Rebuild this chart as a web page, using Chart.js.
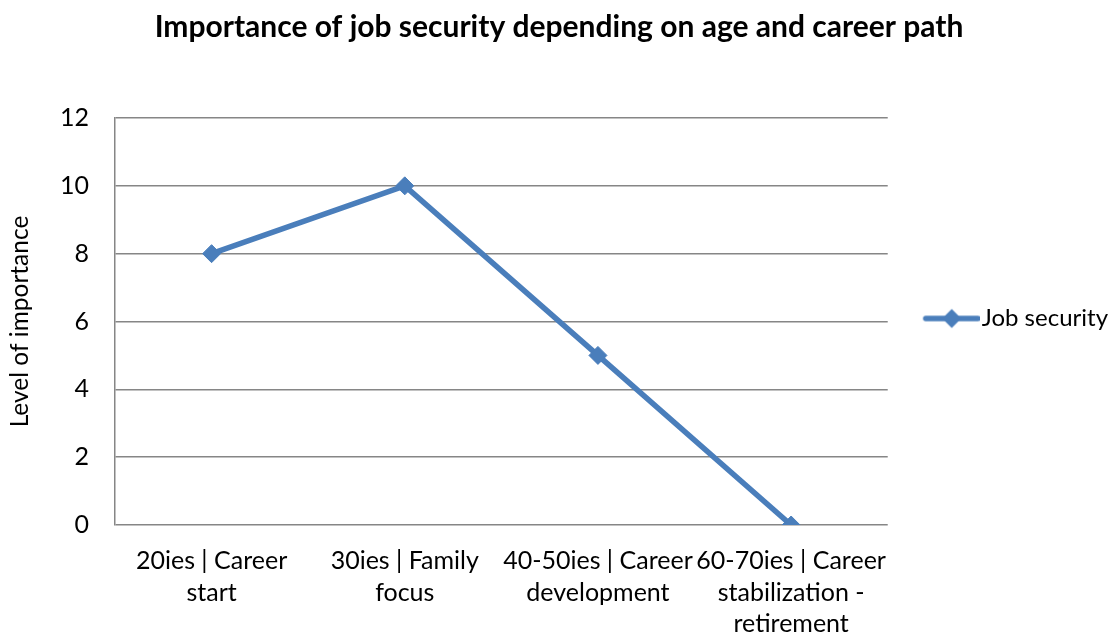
<!DOCTYPE html>
<html>
<head>
<meta charset="utf-8">
<script src="https://cdn.jsdelivr.net/npm/chart.js@4.4.1/dist/chart.umd.min.js"></script>
<style>
  html, body { margin: 0; padding: 0; background: #ffffff; }
  #wrap { width: 1118px; height: 637px; position: relative; }
</style>
</head>
<body>
<div id="wrap"><canvas id="chart" width="1118" height="637"></canvas></div>
<script>
// Life stages (each entry is split into its wrapped label lines)
const stages = [
  ['20ies | Career', 'start'],
  ['30ies | Family', 'focus'],
  ['40-50ies | Career', 'development'],
  ['60-70ies | Career', 'stabilization -', 'retirement']
];
// Importance of job security at each stage
const jobSecurity = [8, 10, 5, 0];
const seriesName = 'Job security';
const chartTitle = 'Importance of job security depending on age and career path';
const yTitle = 'Level of importance';
const yMin = 0, yMax = 12, yStep = 2;

const FONT = "Lato, Carlito, Calibri, 'Open Sans', sans-serif";
const BLUE = '#4A7EBB';
const GRID = '#868686';

// Legend swatch: a short line with a diamond in the middle,
// drawn in the right part of a wider transparent canvas
function legendSwatch() {
  const c = document.createElement('canvas');
  c.width = 92; c.height = 24;
  const g = c.getContext('2d');
  const x0 = 38, x1 = 90, cx = (x0 + x1) / 2, cy = 12;
  g.strokeStyle = BLUE;
  g.lineWidth = 5.5;
  g.lineCap = 'round';
  g.beginPath(); g.moveTo(x0, cy); g.lineTo(x1, cy); g.stroke();
  g.fillStyle = BLUE;
  g.beginPath();
  g.moveTo(cx - 9.5, cy); g.lineTo(cx, cy - 9.5); g.lineTo(cx + 9.5, cy); g.lineTo(cx, cy + 9.5);
  g.closePath(); g.fill();
  return c;
}
const swatch = legendSwatch();

new Chart(document.getElementById('chart'), {
  type: 'line',
  data: {
    labels: stages,
    datasets: [{
      label: seriesName,
      data: jobSecurity,
      borderColor: BLUE,
      backgroundColor: BLUE,
      borderWidth: 5.5,
      pointStyle: 'rectRot',
      pointRadius: 9,
      pointBorderWidth: 1,
      pointHoverRadius: 9,
      tension: 0
    }]
  },
  options: {
    responsive: false,
    animation: false,
    events: [],
    layout: { padding: { left: 0, right: 0, top: 0, bottom: 0 } },
    plugins: {
      title: {
        display: true,
        text: chartTitle,
        color: '#000',
        font: { family: FONT, size: 30, weight: 'bold', lineHeight: 1.2 },
        padding: { top: 9, bottom: 73 }
      },
      legend: {
        position: 'right',
        labels: {
          color: '#000',
          font: { family: FONT, size: 24 },
          usePointStyle: true,
          pointStyleWidth: 72,
          padding: 10,
          generateLabels: (chart) => chart.data.datasets.map((ds, i) => ({
            text: ds.label,
            pointStyle: swatch,
            fillStyle: ds.borderColor,
            strokeStyle: ds.borderColor,
            lineWidth: 0,
            datasetIndex: i
          }))
        }
      },
      tooltip: { enabled: false }
    },
    scales: {
      x: {
        offset: true,
        grid: { display: false, drawTicks: false },
        border: { display: false },
        ticks: {
          color: '#000',
          font: { family: FONT, size: 25, lineHeight: 1.27 },
          padding: 20,
          maxRotation: 0,
          autoSkip: false
        },
        afterFit: (s) => { s.height = 112; }
      },
      y: {
        min: yMin,
        max: yMax,
        ticks: {
          stepSize: yStep,
          color: '#000',
          font: { family: FONT, size: 25 },
          padding: 26
        },
        grid: { color: GRID, lineWidth: 1.5, drawTicks: false },
        border: { display: true, color: GRID, width: 1.5 },
        title: {
          display: true,
          text: yTitle,
          color: '#000',
          font: { family: FONT, size: 24.5, lineHeight: 1.2 },
          padding: { top: 5, bottom: 0 }
        },
        afterFit: (s) => { s.width = 115; }
      }
    }
  }
});
</script>
</body>
</html>
